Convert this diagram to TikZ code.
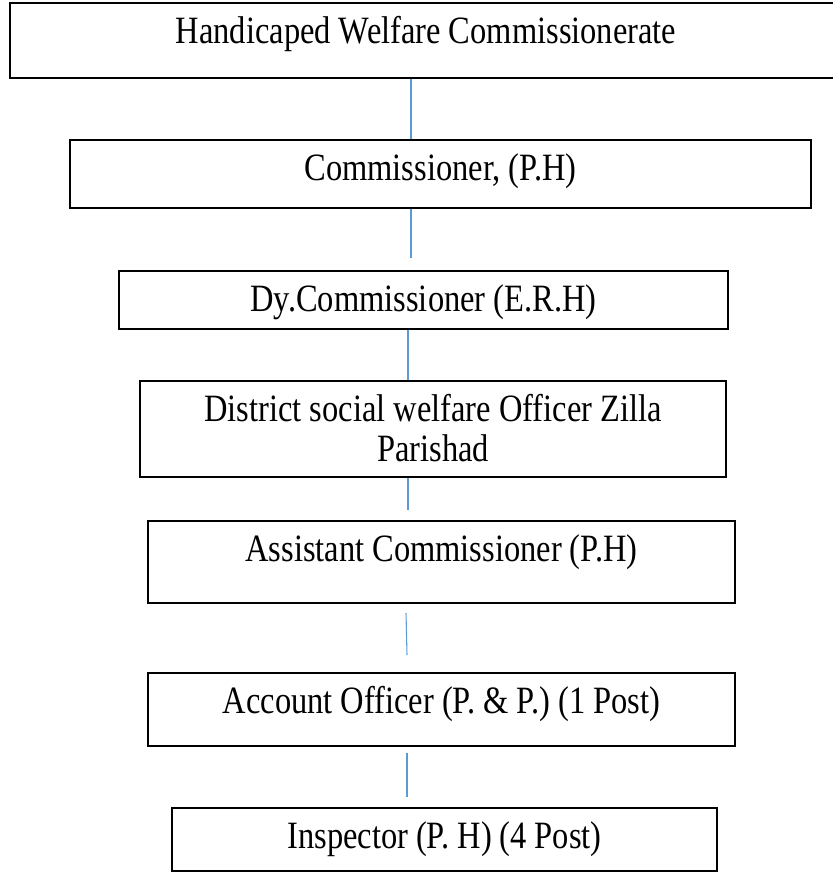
\documentclass[tikz,border=0pt]{standalone}
\usepackage{fontspec}
\setmainfont{Liberation Serif}[FakeStretch=0.84]
\usetikzlibrary{positioning}
\definecolor{lnkblue}{RGB}{91,155,213}
\tikzset{
  post/.style={draw=black, line width=1.3pt, inner sep=0pt, anchor=north,
               align=center, text height=30.75pt, font=\fontsize{29pt}{30pt}\selectfont,
               execute at begin node={\spaceskip=6pt\relax}},
  lnk/.style={lnkblue, line width=0.8pt},
}

\begin{document}
\begin{tikzpicture}[x=0.75pt, y=-0.75pt]
  \useasboundingbox (0,0) rectangle (832,873);
  % boxes
  \node[post, text width=624pt,    text depth=25.5pt]  (hwc)  at (426,2)     {Handicaped Welfare Commissionerate};
  \node[post, text width=555.75pt, text depth=20.25pt] (com)  at (440.5,139) {Commissioner, (P.H)};
  \node[post, text width=456.75pt, text depth=12.75pt] (dyc)  at (423.5,270) {Dy.Commissioner (E.R.H)};
  \node[post, text width=439.5pt,  text depth=41.25pt] (dswo) at (433,380)   {District social welfare Officer Zilla\\Parishad};
  \node[post, text width=440.25pt, text depth=30.75pt] (asc)  at (441.5,520) {Assistant Commissioner (P.H)};
  \node[post, text width=440.25pt, text depth=24pt]    (aco)  at (441.5,672) {Account Officer (P. \& P.) (1 Post)};
  \node[post, text width=408.75pt, text depth=16.5pt]  (insp) at (444.5,807) {Inspector (P. H) (4 Post)};

  % links
  \coordinate (s1) at (411,0);
  \coordinate (s3) at (408,0);
  \coordinate (e2) at (411,258);
  \coordinate (e4) at (408,510);
  \coordinate (a5) at (406,613);
  \coordinate (e5) at (407,655);
  \coordinate (a6) at (407,753);
  \coordinate (e6) at (407,797);
  \draw[lnk] (hwc.south -| s1) -- (com.north -| s1);
  \draw[lnk] (com.south -| s1) -- (e2);
  \draw[lnk] (dyc.south -| s3) -- (dswo.north -| s3);
  \draw[lnk] (dswo.south -| s3) -- (e4);
  \draw[lnk] (a5) -- (e5);
  \draw[lnk] (a6) -- (e6);
\end{tikzpicture}
\end{document}
